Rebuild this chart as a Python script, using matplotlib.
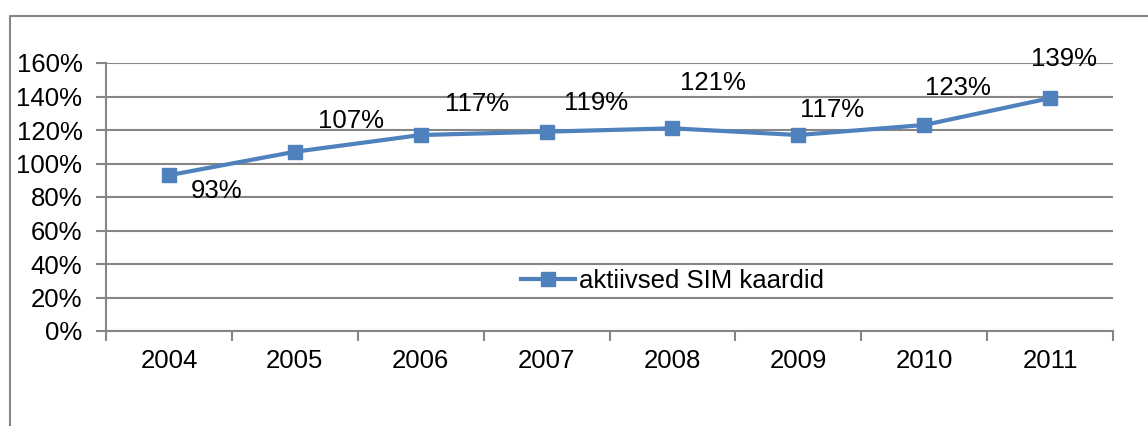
import numpy as np
import matplotlib.pyplot as plt
from matplotlib.lines import Line2D
from matplotlib.ticker import FuncFormatter, FixedLocator

plt.rcParams['font.family'] = ['Liberation Sans', 'DejaVu Sans']

# data
years = ['2004', '2005', '2006', '2007', '2008', '2009', '2010', '2011']
values = [93, 107, 117, 119, 121, 117, 123, 139]
series_name = 'aktiivsed SIM kaardid'

# label offsets in pixels (dx, dy), Excel-style placement
label_offsets = [(48, -16), (56, 31), (56, 31), (49, 29), (41, 45), (34, 25), (34, 37), (14, 39)]

blue = '#4F81BD'
grey = '#868686'
fs = 18.5

fig = plt.figure(figsize=(11.48, 4.26), dpi=100)
ax = fig.add_axes([106/1148, 1 - 331/426, (1113 - 106)/1148, (331 - 63)/426])

x = np.arange(len(years)) + 0.5
line, = ax.plot(x, values, color=blue, lw=3, marker='s', markersize=10,
                markerfacecolor=blue, markeredgecolor=blue, label=series_name, zorder=3)

for xi, v, (dx, dy) in zip(x, values, label_offsets):
    ax.annotate(f'{v}%', (xi, v), textcoords='offset pixels', xytext=(dx, dy),
                ha='center', va='center', fontsize=fs)

ax.set_xlim(0, len(years))
ax.set_ylim(0, 160)
ax.set_yticks(np.arange(0, 161, 20))
ax.yaxis.set_major_formatter(FuncFormatter(lambda v, p: f'{int(v)}%'))
ax.grid(axis='y', color=grey, lw=1.5)
ax.set_axisbelow(True)

ax.xaxis.set_major_locator(FixedLocator(np.arange(len(years) + 1)))
ax.xaxis.set_minor_locator(FixedLocator(x))
ax.set_xticklabels([], minor=False)
ax.set_xticklabels(years, minor=True)
ax.tick_params(axis='x', which='major', length=7, width=1.5, color=grey, direction='out')
ax.tick_params(axis='x', which='minor', length=0, pad=13, labelsize=fs)
ax.tick_params(axis='y', length=7, width=1.5, color=grey, labelsize=fs, pad=10)

for s in ['top', 'right']:
    ax.spines[s].set_visible(False)
for s in ['left', 'bottom']:
    ax.spines[s].set_color(grey)
    ax.spines[s].set_linewidth(1.5)

leg = ax.legend(loc='center left', bbox_to_anchor=(508/1148, 1 - 281/426),
                bbox_transform=fig.transFigure, frameon=False, fontsize=fs,
                handlelength=2.1, handletextpad=0.15, borderpad=0)

# outer chart border (left and top edges visible)
fig.add_artist(Line2D([10/1148, 10/1148, 1.0], [0, 1 - 16/426, 1 - 16/426],
                      transform=fig.transFigure, color=grey, lw=1.5))

fig.savefig('out.png', dpi=100)
